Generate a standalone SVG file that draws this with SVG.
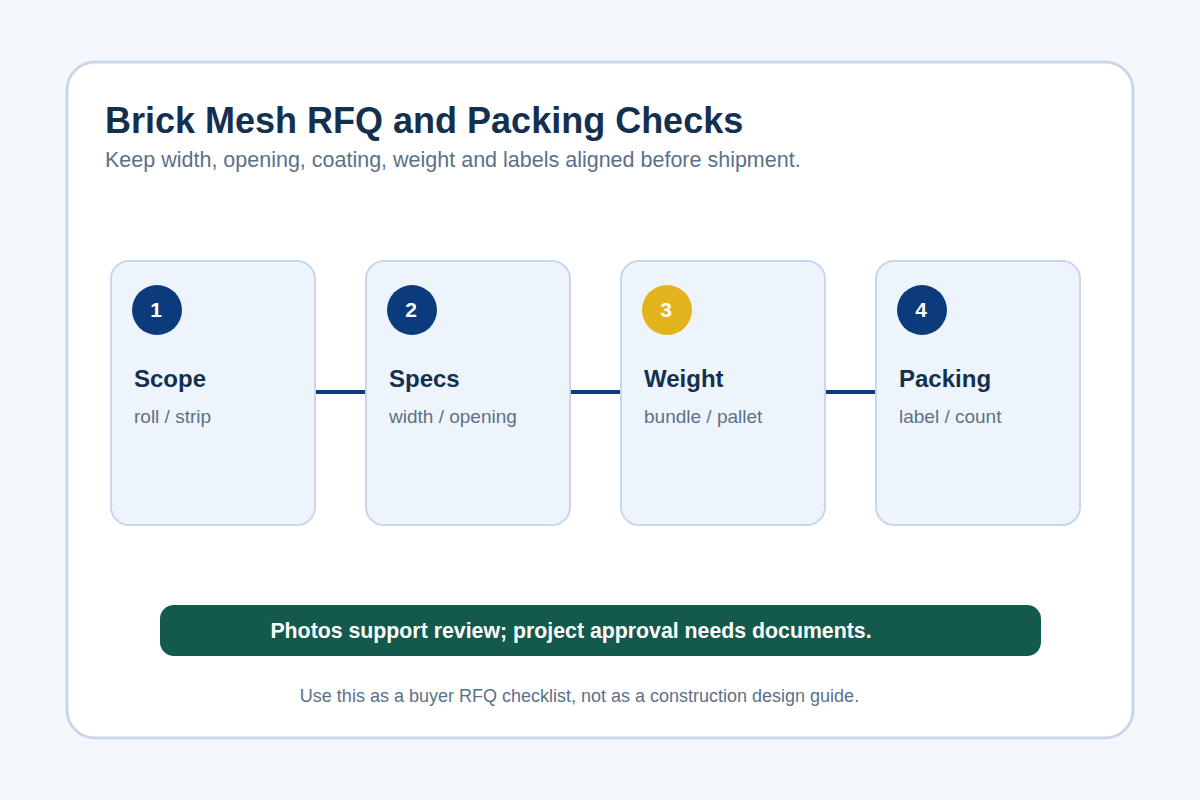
<svg xmlns="http://www.w3.org/2000/svg" width="1200" height="800" viewBox="0 0 1200 800">
<style>
.card{fill:#eef4fb;stroke:#c9d7ea;stroke-width:2}
.num{font-family:"Liberation Sans",Arial,sans-serif;font-size:21px;font-weight:bold;fill:#ffffff;text-anchor:middle}
.ttl{font-family:"Liberation Sans",Arial,sans-serif;font-size:24px;font-weight:bold;fill:#14304f}
.sub{font-family:"Liberation Sans",Arial,sans-serif;font-size:19px;fill:#5b7189}
.conn{stroke:#0b3b7a;stroke-width:4}
</style>
<rect x="0" y="0" width="1200" height="800" fill="#f4f7fb"/>
<rect x="67" y="62" width="1066" height="676" rx="28" fill="#ffffff" stroke="#c9d7ea" stroke-width="3"/>
<text x="105" y="133" font-family="Liberation Sans, Arial, sans-serif" font-size="36" font-weight="bold" fill="#14304f">Brick Mesh RFQ and Packing Checks</text>
<text x="105" y="167" font-family="Liberation Sans, Arial, sans-serif" font-size="21.5" fill="#5b7189">Keep width, opening, coating, weight and labels aligned before shipment.</text>
<g id="connectors">
<line class="conn" x1="315" y1="392" x2="366" y2="392"/>
<line class="conn" x1="570" y1="392" x2="621" y2="392"/>
<line class="conn" x1="825" y1="392" x2="876" y2="392"/>
</g>
<g id="node1">
<rect class="card" x="111" y="261" width="204" height="264" rx="18"/>
<circle cx="157" cy="310" r="25" fill="#0b3b7a"/>
<text class="num" x="156" y="317">1</text>
<text class="ttl" x="134" y="387">Scope</text>
<text class="sub" x="134" y="423">roll / strip</text>
</g>
<g id="node2">
<rect class="card" x="366" y="261" width="204" height="264" rx="18"/>
<circle cx="412" cy="310" r="25" fill="#0b3b7a"/>
<text class="num" x="411" y="317">2</text>
<text class="ttl" x="389" y="387">Specs</text>
<text class="sub" x="389" y="423">width / opening</text>
</g>
<g id="node3">
<rect class="card" x="621" y="261" width="204" height="264" rx="18"/>
<circle cx="667" cy="310" r="25" fill="#e3b31b"/>
<text class="num" x="666" y="317">3</text>
<text class="ttl" x="644" y="387">Weight</text>
<text class="sub" x="644" y="423">bundle / pallet</text>
</g>
<g id="node4">
<rect class="card" x="876" y="261" width="204" height="264" rx="18"/>
<circle cx="922" cy="310" r="25" fill="#0b3b7a"/>
<text class="num" x="921" y="317">4</text>
<text class="ttl" x="899" y="387">Packing</text>
<text class="sub" x="899" y="423">label / count</text>
</g>
<g id="banner">
<rect x="160" y="605" width="881" height="51" rx="14" fill="#145a4c"/>
<text x="571" y="638" text-anchor="middle" font-family="Liberation Sans, Arial, sans-serif" font-size="21.3" font-weight="bold" fill="#ffffff">Photos support review; project approval needs documents.</text>
</g>
<text x="579.5" y="702" text-anchor="middle" font-family="Liberation Sans, Arial, sans-serif" font-size="18" fill="#5b7189">Use this as a buyer RFQ checklist, not as a construction design guide.</text>
</svg>
